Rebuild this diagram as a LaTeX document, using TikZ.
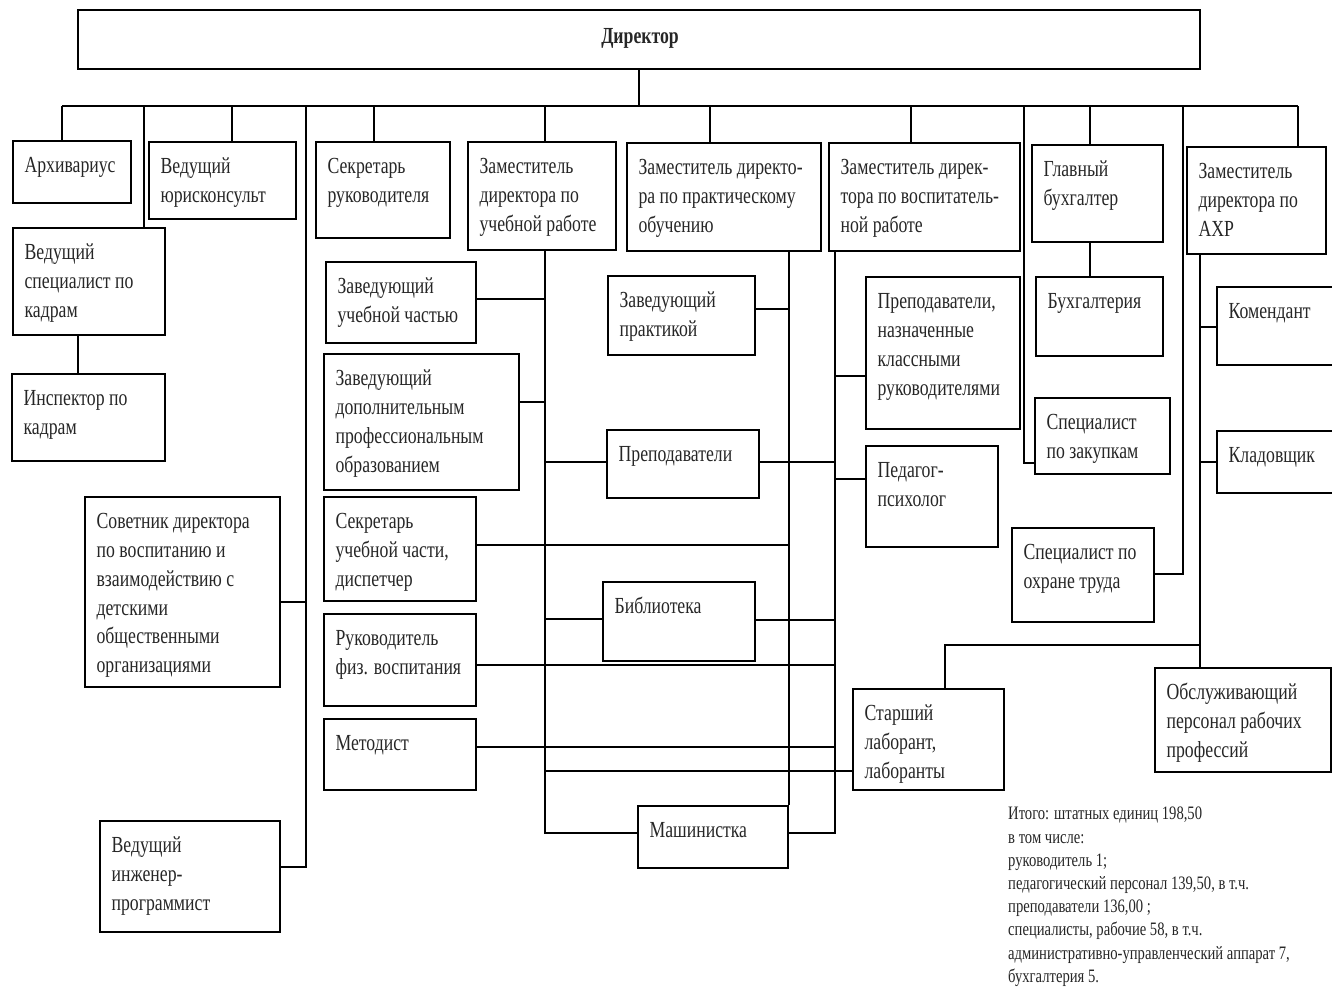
\documentclass[tikz,border=0pt]{standalone}
\usepackage{fontspec}
\setmainfont{Liberation Serif}[FakeStretch=0.77]
\tikzset{
  box/.style={draw, rectangle, inner sep=0pt, line width=1.2pt},
  txt/.style={anchor=north west, inner sep=0pt, align=left, text=black!85, font=\fontsize{23}{28.8}\selectfont},
  conn/.style={line width=1.2pt},
  note/.style={anchor=north west, inner sep=0pt, align=left, text=black!85, font=\fontsize{19}{23.2}\selectfont}
}
\newcommand\bx[6]{%
  \node[box, minimum width={(#4-#2)*1pt}, minimum height={(#5-#3)*1pt}] (#1) at ({(#2+#4)/2},{(#3+#5)/2}) {};
  \node[txt] (#1t) at ([xshift=12pt,yshift=-11pt]#1.north west) {\rule{0pt}{21pt}#6};
}
\begin{document}
\begin{tikzpicture}[x=1pt,y=-1pt]
\useasboundingbox (0,0) rectangle (1332,990);
% director
\node[box, minimum width=1122pt, minimum height=59pt] (dir) at (639,39.5) {};
\node[inner sep=0pt, text=black!85, font=\fontsize{23}{28}\selectfont\bfseries] (dirt) at (640,38) {Директор};
% boxes
\bx{arch}{13}{141}{131}{203}{Архивариус}
\bx{yur}{149}{142}{296}{219}{Ведущий\\юрисконсульт}
\bx{vspec}{13}{228}{165}{335}{Ведущий\\специалист по\\кадрам}
\bx{insp}{12}{374}{165}{461}{Инспектор по\\кадрам}
\bx{sov}{85}{497}{280}{687}{Советник директора\\по воспитанию и\\взаимодействию с\\детскими\\общественными\\организациями}
\bx{ing}{100}{821}{280}{932}{Ведущий\\инженер-\\программист}
\bx{sekr}{316}{142}{450}{238}{Секретарь\\руководителя}
\bx{zamU}{468}{142}{616}{250}{Заместитель\\директора по\\учебной работе}
\bx{zavU}{326}{262}{476}{343}{Заведующий\\учебной частью}
\bx{zavD}{324}{354}{519}{490}{Заведующий\\дополнительным\\профессиональным\\образованием}
\bx{sekU}{324}{497}{476}{601}{Секретарь\\учебной части,\\диспетчер}
\bx{ruk}{324}{614}{476}{706}{Руководитель\\физ. воспитания}
\bx{met}{324}{719}{476}{790}{Методист}
\bx{zamP}{627}{143}{821}{251}{Заместитель директо-\\ра по практическому\\обучению}
\bx{zavPr}{608}{276}{755}{355}{Заведующий\\практикой}
\bx{prep}{607}{430}{759}{498}{Преподаватели}
\bx{bib}{603}{582}{755}{661}{Библиотека}
\bx{mash}{638}{806}{788}{868}{Машинистка}
\bx{zamV}{829}{143}{1020}{251}{Заместитель дирек-\\тора по воспитатель-\\ной работе}
\bx{prepKl}{866}{277}{1020}{429}{Преподаватели,\\назначенные\\классными\\руководителями}
\bx{ped}{866}{446}{998}{547}{Педагог-\\психолог}
\bx{lab}{853}{689}{1004}{790}{Старший\\лаборант,\\лаборанты}
\bx{glb}{1032}{145}{1163}{242}{Главный\\бухгалтер}
\bx{buh}{1036}{277}{1163}{356}{Бухгалтерия}
\bx{zak}{1035}{398}{1170}{474}{Специалист\\по закупкам}
\bx{ohr}{1012}{528}{1154}{622}{Специалист по\\охране труда}
\bx{ahr}{1187}{147}{1326}{254}{Заместитель\\директора по\\АХР}
\bx{kom}{1217}{287}{1345}{365}{Комендант}
\bx{klad}{1217}{431}{1345}{493}{Кладовщик}
\bx{obs}{1155}{668}{1331}{772}{Обслуживающий\\персонал рабочих\\профессий}
% note
\node[note] (itog) at (1008,807) {Итого: штатных единиц 198,50\\в том числе:\\руководитель 1;\\педагогический персонал 139,50, в т.ч.\\преподаватели 136,00 ;\\специалисты, рабочие 58, в т.ч.\\административно-управленческий аппарат 7,\\бухгалтерия 5.};
% bus
\coordinate (t1) at (62,106);
\coordinate (t2) at (144,106);
\coordinate (t3) at (232,106);
\coordinate (t4) at (306,106);
\coordinate (t5) at (374,106);
\coordinate (t6) at (545,106);
\coordinate (t7) at (710,106);
\coordinate (t8) at (911,106);
\coordinate (t9) at (1024,106);
\coordinate (t10) at (1090,106);
\coordinate (t11) at (1183,106);
\coordinate (t12) at (1298,106);
\draw[conn] (t1) -- (t12);
\draw[conn] (dir.south) -- (dir.south |- t1);
\draw[conn] (t1) -- (t1 |- arch.north);
\draw[conn] (t2) -- (t2 |- vspec.north);
\draw[conn] (t3) -- (t3 |- yur.north);
\draw[conn] (t5) -- (t5 |- sekr.north);
\draw[conn] (t6) -- (t6 |- zamU.north);
\draw[conn] (t7) -- (t7 |- zamP.north);
\draw[conn] (t8) -- (t8 |- zamV.north);
\draw[conn] (t10) -- (t10 |- glb.north);
\draw[conn] (t12) -- (t12 |- ahr.north);
% left trunk
\draw[conn] (vspec.south -| 78,0) -- (insp.north -| 78,0);
\draw[conn] (t4) -- (306,867) -- (ing.east |- 0,867);
\draw[conn] (sov.east |- 0,602) -- (306,602);
% zam ucheb trunk
\draw[conn] (zamU.south -| 545,0) -- (545,833) -- (mash.west |- 0,833);
\draw[conn] (zavU.east |- 0,299) -- (545,299);
\draw[conn] (zavD.east |- 0,402) -- (545,402);
\draw[conn] (sekU.east |- 0,545) -- (789,545);
\draw[conn] (ruk.east |- 0,665) -- (835,665);
\draw[conn] (met.east |- 0,747) -- (835,747);
\draw[conn] (545,771) -- (lab.west |- 0,771);
\draw[conn] (545,462) -- (prep.west |- 0,462);
\draw[conn] (545,619) -- (bib.west |- 0,619);
% zam prakt trunk
\draw[conn] (zamP.south -| 789,0) -- (mash.north east -| 789,0);
\draw[conn] (zavPr.east |- 0,309) -- (789,309);
% zam vosp trunk
\draw[conn] (zamV.south -| 835,0) -- (835,833) -- (mash.east |- 0,833);
\draw[conn] (prep.east |- 0,462) -- (835,462);
\draw[conn] (bib.east |- 0,620) -- (835,620);
\draw[conn] (835,376) -- (prepKl.west |- 0,376);
\draw[conn] (835,479) -- (ped.west |- 0,479);
% right side
\draw[conn] (t9) -- (1024,463) -- (zak.west |- 0,463);
\draw[conn] (glb.south -| 1090,0) -- (buh.north -| 1090,0);
\draw[conn] (t11) -- (1183,574) -- (ohr.east |- 0,574);
\draw[conn] (ahr.south -| 1200,0) -- (obs.north -| 1200,0);
\draw[conn] (1200,327) -- (kom.west |- 0,327);
\draw[conn] (1200,462) -- (klad.west |- 0,462);
\draw[conn] (1200,645) -- (945,645) -- (lab.north -| 945,0);
\end{tikzpicture}
\end{document}
